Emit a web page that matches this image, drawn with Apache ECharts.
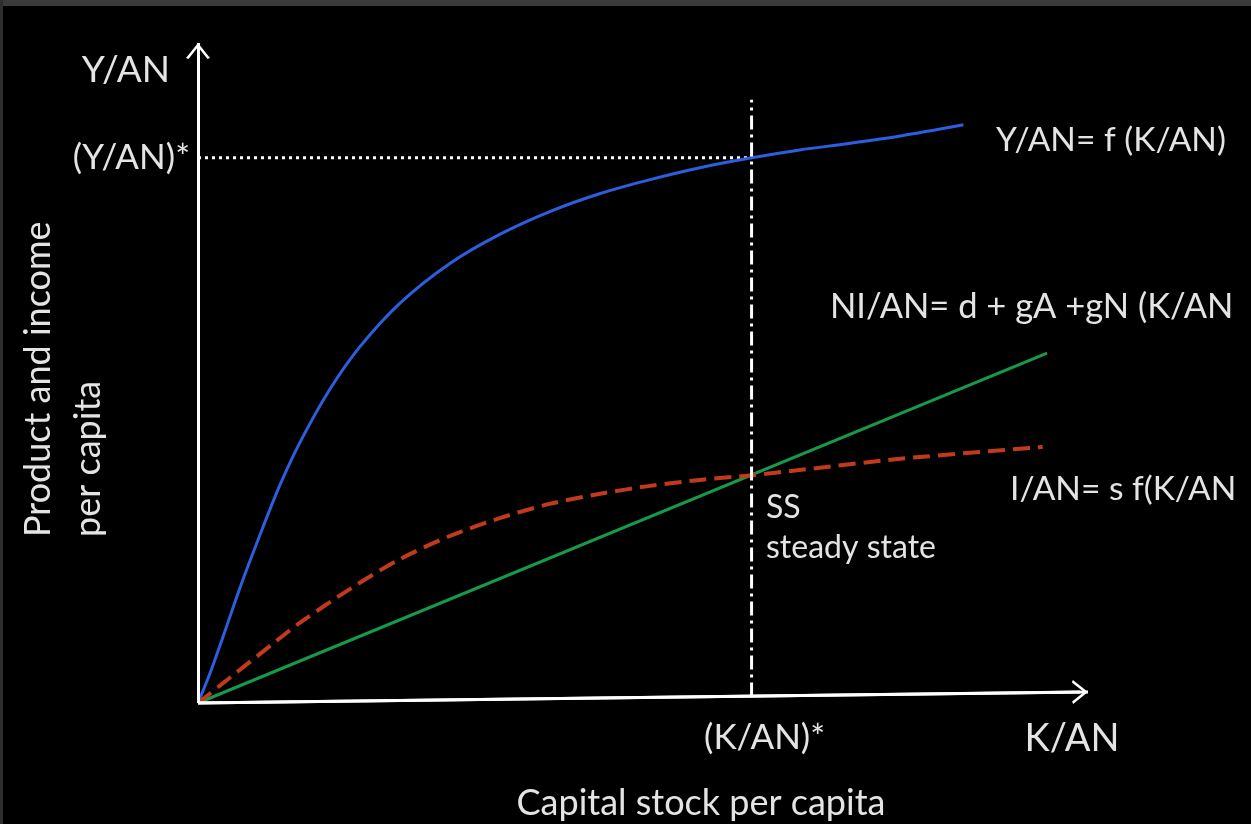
<!DOCTYPE html>
<html>
<head>
<meta charset="utf-8">
<script src="https://cdn.jsdelivr.net/npm/echarts@6/dist/echarts.min.js"></script>
<style>
  html, body { margin: 0; padding: 0; background: #000; }
  #chart { width: 1251px; height: 824px; }
</style>
</head>
<body>
<div id="chart"></div>
<script>
// ---- data (arbitrary units: K/AN 0..100, Y/AN 0..100) ----
const kBlue = [0, 1.35, 2.7, 4.7, 7.0, 9.2, 11.5, 14.8, 18.2, 22.7, 28.3, 33.9, 39.6, 45.2, 50.8, 56.4, 62.2, 67.6, 73.3, 78.9, 86.0];
const yBlue = [0, 4.5, 9.6, 17.4, 25.6, 33.0, 39.6, 47.5, 54.0, 60.6, 66.6, 71.0, 74.5, 77.2, 79.3, 81.1, 82.6, 83.8, 84.8, 85.9, 87.6];
const kRed = [0, 8.9, 11.5, 17.1, 22.7, 28.3, 33.9, 39.6, 45.2, 50.8, 56.4, 62.2, 67.6, 78.9, 94.9];
const yRed = [0, 9.5, 12.2, 17.3, 21.8, 25.3, 28.0, 30.2, 31.7, 32.9, 33.8, 34.5, 35.3, 37.0, 38.8];
const kGreen = [0, 95.4];
const yGreen = [0, 53.0];
const kStar = 62.2;          // (K/AN)*
const yStar = 82.6;          // (Y/AN)*
const ssLineTop = 91.4;      // top of steady-state guide
const xTickValues = [62.2, 98.2];
const xTickLabels = ['(K/AN)*', 'K/AN'];
const yTickValues = [82.6, 95.9];
const yTickLabels = ['(Y/AN)*', 'Y/AN'];
const axisOrigin = [0, 0];
const xAxisEnd = [100, 1.67];
const yAxisEnd = [0, 100];

const pairs = (xs, ys) => xs.map((x, i) => [x, ys[i]]);

const FONT = 'Lato';
const TXT = '#e4e4e4';
const chevron = 'path://M12,0 L24,15 L21.5,16 L12,4 L2.5,16 L0,15 Z';

const chart = echarts.init(document.getElementById('chart'), null, { renderer: 'canvas' });

const option = {
  backgroundColor: '#000',
  animation: false,
  grid: { left: 198, right: 163, top: 43, bottom: 121, containLabel: false, outerBoundsMode: 'none' },
  xAxis: {
    type: 'value', min: 0, max: 100,
    splitLine: { show: false }, axisLine: { show: false }, axisTick: { show: false },
    axisLabel: {
      customValues: xTickValues,
      margin: 17,
      color: TXT, fontFamily: FONT, fontSize: 35,
      formatter: v => {
        const i = xTickValues.indexOf(v);
        return i === 0 ? '{a|' + xTickLabels[0] + '}' : '{b|' + xTickLabels[1] + '}';
      },
      rich: {
        a: { color: TXT, fontFamily: FONT, fontSize: 35, padding: [0, 0, 0, 26] },
        b: { color: TXT, fontFamily: FONT, fontSize: 38 }
      }
    }
  },
  yAxis: {
    type: 'value', min: 0, max: 100,
    splitLine: { show: false }, axisLine: { show: false }, axisTick: { show: false },
    axisLabel: {
      customValues: yTickValues,
      margin: 8,
      color: TXT, fontFamily: FONT, fontSize: 36,
      formatter: v => {
        const i = yTickValues.indexOf(v);
        return i === 0 ? '{a|' + yTickLabels[0] + '}' : '{b|' + yTickLabels[1] + '}';
      },
      rich: {
        a: { color: TXT, fontFamily: FONT, fontSize: 35 },
        b: { color: TXT, fontFamily: FONT, fontSize: 37, padding: [0, 20, 0, 0] }
      }
    }
  },
  series: [
    {
      name: 'axes', type: 'line', data: [axisOrigin], symbol: 'none', silent: true,
      markLine: {
        silent: true, animation: false,
        symbol: ['none', 'none'],
        label: { show: false },
        lineStyle: { color: '#ffffff', width: 3, type: 'solid' },
        emphasis: { disabled: true },
        data: [
          [{ coord: axisOrigin }, { coord: xAxisEnd }],
          [{ coord: axisOrigin }, { coord: yAxisEnd }],
          [{ coord: axisOrigin }, { coord: [xAxisEnd[0] - 0.9, xAxisEnd[1]], symbol: chevron, symbolSize: [24, 16] }],
          [{ coord: axisOrigin }, { coord: [0, yAxisEnd[1] - 1.2], symbol: chevron, symbolSize: [24, 16] }]
        ]
      }
    },
    {
      name: 'Y/AN', type: 'line', data: pairs(kBlue, yBlue), smooth: 0.3,
      symbol: 'none', lineStyle: { color: '#2d5ee0', width: 3 }, z: 3
    },
    {
      name: 'NI/AN', type: 'line', data: pairs(kGreen, yGreen),
      symbol: 'none', lineStyle: { color: '#17994a', width: 3 }, z: 3
    },
    {
      name: 'I/AN', type: 'line', data: pairs(kRed, yRed), smooth: 0.3,
      symbol: 'none', lineStyle: { color: '#c23a1c', width: 4, type: [17, 8] }, z: 4
    },
    {
      name: 'ssline', type: 'line', data: [[kStar, 1], [kStar, ssLineTop]],
      symbol: 'none', lineStyle: { color: '#ffffff', width: 3, type: [14, 5, 3, 5] }, z: 5
    },
    {
      name: 'ystar', type: 'line', data: [[0, yStar], [kStar, yStar]],
      symbol: 'none', lineStyle: { color: '#ffffff', width: 3, type: [3, 4] }, z: 2
    }
  ],
  graphic: [
    { type: 'rect', shape: { x: 0, y: 0, width: 1251, height: 6 }, style: { fill: '#3b3b3b' }, silent: true },
    { type: 'rect', shape: { x: 0, y: 0, width: 3, height: 824 }, style: { fill: '#2e2e2e' }, silent: true },
    { type: 'text', x: 63, y: 537, rotation: Math.PI / 2,
      style: { text: 'Product and income\nper capita', fill: TXT, font: '36px Lato', lineHeight: 50, textAlign: 'left', textVerticalAlign: 'middle' } },
    { type: 'text', x: 996, y: 140, style: { text: 'Y/AN= f (K/AN)', fill: TXT, font: '33.5px Lato', textVerticalAlign: 'middle' } },
    { type: 'text', x: 830, y: 307, style: { text: 'NI/AN= d + gA +gN (K/AN', fill: TXT, font: '34.5px Lato', textVerticalAlign: 'middle' } },
    { type: 'text', x: 1010, y: 489, style: { text: 'I/AN= s f(K/AN', fill: TXT, font: '33.5px Lato', textVerticalAlign: 'middle' } },
    { type: 'text', x: 766, y: 508, style: { text: 'SS', fill: TXT, font: '32px Lato', textVerticalAlign: 'middle' } },
    { type: 'text', x: 766, y: 548, style: { text: 'steady state', fill: TXT, font: '32px Lato', textVerticalAlign: 'middle' } },
    { type: 'text', x: 701, y: 803, style: { text: 'Capital stock per capita', fill: TXT, font: '36px Lato', textAlign: 'center', textVerticalAlign: 'middle' } }
  ]
};
chart.setOption(option);
</script>
</body>
</html>
